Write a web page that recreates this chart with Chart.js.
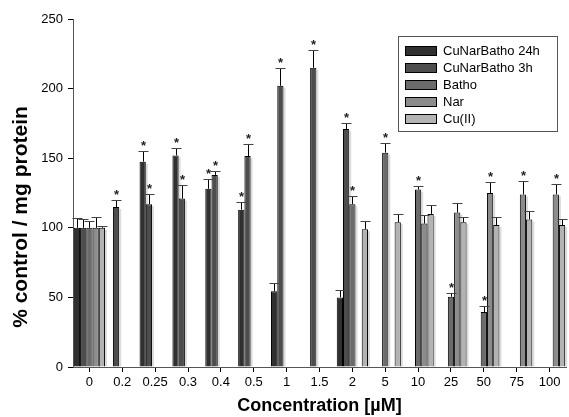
<!DOCTYPE html>
<html>
<head>
<meta charset="utf-8">
<script src="https://cdn.jsdelivr.net/npm/chart.js@4/dist/chart.umd.min.js"></script>
<style>
  html, body { margin: 0; padding: 0; background: #fff; }
  #wrap { width: 569px; height: 417px; }
</style>
</head>
<body>
<div id="wrap"><canvas id="chart" width="569" height="417"></canvas></div>
<script>
// concentrations on the x axis
const concentrations = ['0', '0.2', '0.25', '0.3', '0.4', '0.5', '1', '1.5', '2', '5', '10', '25', '50', '75', '100'];

const seriesNames = ['CuNarBatho 24h', 'CuNarBatho 3h', 'Batho', 'Nar', 'Cu(II)'];
const seriesColors = ['#303030', '#4d4d4d', '#6b6b6b', '#8c8c8c', '#b3b3b3'];

// mean values (% control / mg protein), null = not measured
const cuNarBatho24h = [100, null, 147.5, 152, 128, 113, 54.5, null, 50, null, null, null, null, null, null];
const cuNarBatho3h  = [100, 115, 117, 121, 138, 151.5, 202, 215, 171, null, null, null, null, null, null];
const batho         = [100, null, null, null, null, null, null, null, 117, 154, 127.5, 50.5, 39.5, null, null];
const nar           = [100, null, null, null, null, null, null, null, null, null, 103, 111, 125, 124, 124];
const cuII          = [100, null, null, null, null, null, null, null, 99, 104, 110, 104, 102, 106, 102];

// upper error bars
const err24h  = [7, 0, 8, 5, 7, 5.5, 5.5, 0, 5, 0, 0, 0, 0, 0, 0];
const err3h   = [6, 5, 7.5, 10, 3, 9, 13, 12.5, 4.5, 0, 0, 0, 0, 0, 0];
const errBatho = [5, 0, 0, 0, 0, 0, 0, 0, 6, 7, 2.5, 2.5, 4.5, 0, 0];
const errNar  = [8, 0, 0, 0, 0, 0, 0, 0, 0, 0, 6, 6.5, 8, 9.5, 7.5];
const errCu   = [1, 0, 0, 0, 0, 0, 0, 0, 6, 6, 6.5, 4, 5.5, 6, 4.5];

// significance markers (1 = *)
const sig24h  = [0, 0, 1, 1, 1, 1, 0, 0, 0, 0, 0, 0, 0, 0, 0];
const sig3h   = [0, 1, 1, 1, 1, 1, 1, 1, 1, 0, 0, 0, 0, 0, 0];
const sigBatho = [0, 0, 0, 0, 0, 0, 0, 0, 1, 1, 1, 1, 1, 0, 0];
const sigNar  = [0, 0, 0, 0, 0, 0, 0, 0, 0, 0, 0, 0, 1, 1, 1];
const sigCu   = [0, 0, 0, 0, 0, 0, 0, 0, 0, 0, 0, 0, 0, 0, 0];

const allValues = [cuNarBatho24h, cuNarBatho3h, batho, nar, cuII];
const allErrors = [err24h, err3h, errBatho, errNar, errCu];
const allSig = [sig24h, sig3h, sigBatho, sigNar, sigCu];

const FONT = '"Liberation Sans", Arial, sans-serif';

// light shadow on the right side of each bar
const shadowPlugin = {
    id: 'barShadow',
    beforeDatasetsDraw: function(chart) {
        let ctx = chart.ctx;
        ctx.save();
        ctx.fillStyle = '#dcdcdc';
        chart.data.datasets.forEach((ds, i) => {
            chart.getDatasetMeta(i).data.forEach((bar, j) => {
                if (ds.data[j] == null) return;
                let right = bar.x + bar.width / 2;
                ctx.fillRect(right, bar.y + 2, 2, bar.base - bar.y - 2);
            });
        });
        ctx.restore();
    }
};

// error bars (upper only) and asterisks
const errorPlugin = {
    id: 'errorBars',
    afterDatasetsDraw: function(chart) {
        let ctx = chart.ctx;
        let yScale = chart.scales.y;
        ctx.save();
        chart.data.datasets.forEach((ds, i) => {
            chart.getDatasetMeta(i).data.forEach((bar, j) => {
                let v = ds.data[j];
                if (v == null) return;
                let e = allErrors[i][j];
                let x = Math.round(bar.x) + 0.5;
                let yTop = Math.round(yScale.getPixelForValue(v + e)) + 0.5;
                let yBar = yScale.getPixelForValue(v);
                ctx.strokeStyle = '#000';
                ctx.lineWidth = 1;
                ctx.beginPath();
                ctx.moveTo(x, yBar);
                ctx.lineTo(x, yTop);
                ctx.stroke();
                ctx.strokeStyle = '#444';
                ctx.beginPath();
                ctx.moveTo(x - 5, yTop);
                ctx.lineTo(x + 5, yTop);
                ctx.stroke();
                if (allSig[i][j]) {
                    ctx.fillStyle = '#222';
                    ctx.font = 'bold 13px ' + FONT;
                    ctx.textAlign = 'center';
                    ctx.textBaseline = 'middle';
                    ctx.fillText('*', x, yTop - 5);
                }
            });
        });
        ctx.restore();
    }
};

// y axis title, drawn by hand because it sits a bit below the axis centre
const yTitle = {
    id: 'yTitle',
    afterDraw: function(chart) {
        let ctx = chart.ctx;
        let area = chart.chartArea;
        ctx.save();
        ctx.translate(21, (area.top + area.bottom) / 2 + 24);
        ctx.rotate(-Math.PI / 2);
        ctx.font = 'bold 21px ' + FONT;
        ctx.fillStyle = '#000';
        ctx.textAlign = 'center';
        ctx.textBaseline = 'middle';
        ctx.fillText('% control / mg protein', 0, 0);
        ctx.restore();
    }
};

// boxed legend inside the plot area (top right)
const boxLegend = {
    id: 'boxLegend',
    afterDraw: function(chart) {
        let ctx = chart.ctx;
        let area = chart.chartArea;
        let bx = area.right - 168, by = area.top + 17, bw = 159, bh = 95;
        ctx.save();
        ctx.fillStyle = '#fff';
        ctx.fillRect(bx, by, bw, bh);
        ctx.strokeStyle = '#555';
        ctx.lineWidth = 1;
        ctx.strokeRect(bx + 0.5, by + 0.5, bw, bh);
        ctx.font = '13px ' + FONT;
        ctx.textBaseline = 'middle';
        ctx.textAlign = 'left';
        seriesNames.forEach((name, i) => {
            let cy = by + 15 + i * 17;
            ctx.fillStyle = seriesColors[i];
            ctx.fillRect(bx + 7, cy - 4, 31, 8);
            ctx.strokeStyle = '#000';
            ctx.strokeRect(bx + 7.5, cy - 4.5, 31, 9);
            ctx.fillStyle = '#000';
            ctx.fillText(name, bx + 45, cy);
        });
        ctx.restore();
    }
};

let datasets = seriesNames.map((name, i) => ({
    label: name,
    data: allValues[i],
    backgroundColor: seriesColors[i],
    borderColor: '#000',
    borderWidth: 1,
    borderSkipped: 'bottom',
    barPercentage: 1.0,
    categoryPercentage: 0.95
}));

new Chart(document.getElementById('chart').getContext('2d'), {
    type: 'bar',
    data: { labels: concentrations, datasets: datasets },
    options: {
        responsive: false,
        animation: false,
        layout: { padding: { top: 19, right: 3, left: 0, bottom: 0 } },
        plugins: {
            legend: { display: false },
            tooltip: { enabled: false }
        },
        scales: {
            x: {
                offset: true,
                grid: { offset: false, drawOnChartArea: false, tickLength: 5, color: '#000' },
                border: { color: '#555', width: 1 },
                ticks: { color: '#000', font: { family: FONT, size: 13 }, padding: 3, maxRotation: 0, autoSkip: false },
                title: { display: true, text: 'Concentration [µM]', color: '#000', font: { family: FONT, size: 18, weight: 'bold' }, padding: { top: 2, bottom: 0 } },
                afterFit: function(s) { s.height = 50; }
            },
            y: {
                min: 0,
                max: 250,
                ticks: { stepSize: 50, color: '#000', font: { family: FONT, size: 13 }, padding: 5 },
                grid: { drawOnChartArea: false, tickLength: 5, color: '#000' },
                border: { color: '#555', width: 1 },
                afterFit: function(s) { s.width = 73; }
            }
        }
    },
    plugins: [shadowPlugin, errorPlugin, yTitle, boxLegend]
});
</script>
</body>
</html>
